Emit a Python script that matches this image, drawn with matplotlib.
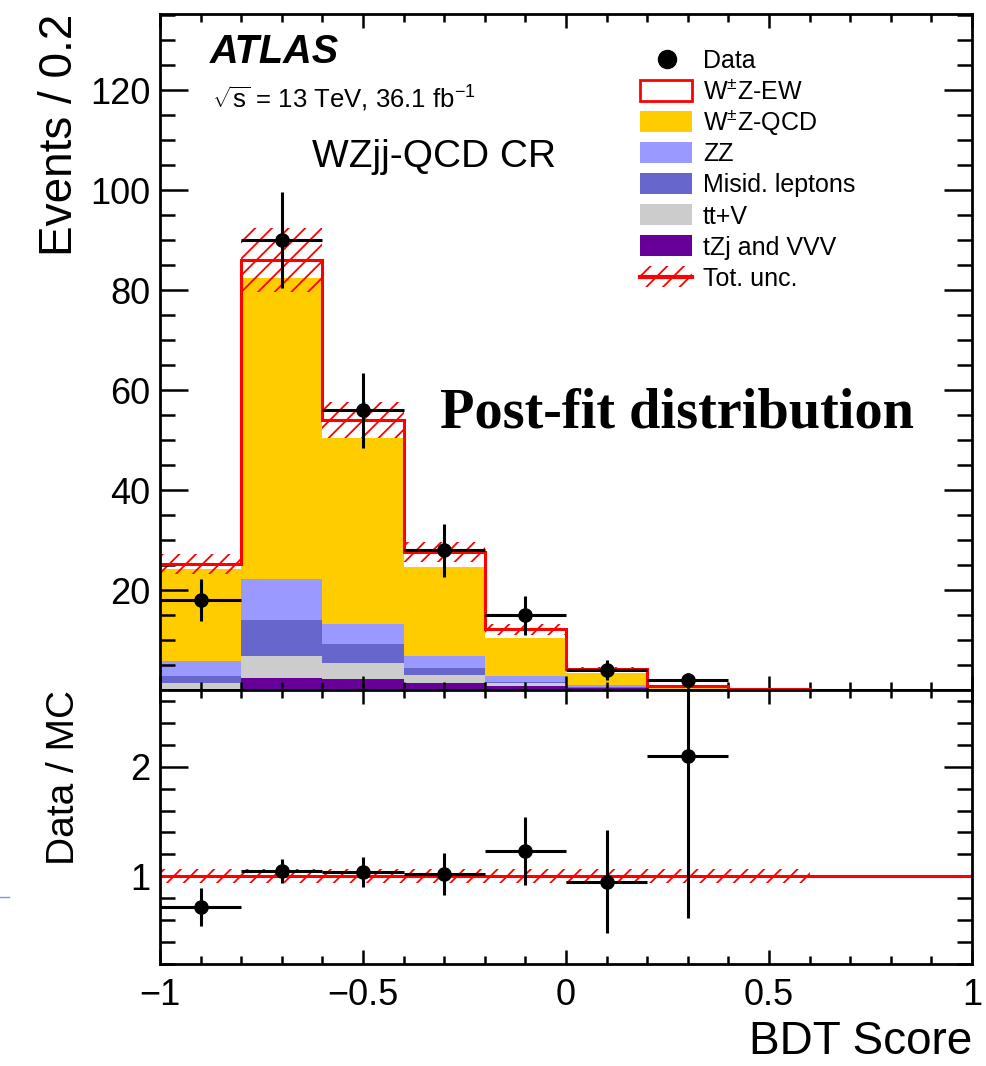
import numpy as np
import matplotlib
matplotlib.use('Agg')
import matplotlib.pyplot as plt
from matplotlib.patches import Rectangle
from matplotlib.lines import Line2D
from matplotlib.ticker import MultipleLocator, FixedLocator

plt.rcParams['font.family'] = ['Liberation Sans', 'DejaVu Sans']
plt.rcParams['mathtext.fontset'] = 'custom'
plt.rcParams['mathtext.rm'] = 'Liberation Sans'
plt.rcParams['mathtext.it'] = 'Liberation Sans:italic'
plt.rcParams['mathtext.bf'] = 'Liberation Sans:bold'
plt.rcParams['hatch.linewidth'] = 1.3

# ---------------- data ----------------
bin_edges = np.round(np.arange(-1.0, 1.0001, 0.2), 2)

tzj_vvv = [0.3, 2.4, 2.2, 1.5, 0.9, 0.35, 0.10, 0.04, 0.0, 0.0]
ttv     = [1.2, 4.4, 3.2, 1.5, 0.45, 0.15, 0.05, 0.0, 0.0, 0.0]
misid   = [1.4, 7.2, 3.8, 1.5, 0.35, 0.20, 0.05, 0.0, 0.0, 0.0]
zz      = [3.0, 8.2, 4.0, 2.4, 1.1, 0.30, 0.10, 0.0, 0.0, 0.0]
wz_qcd  = [18.4, 60.2, 37.2, 17.7, 7.6, 2.4, 0.25, 0.05, 0.0, 0.0]
wz_ew   = [0.9, 3.6, 3.6, 3.0, 1.8, 0.8, 0.25, 0.05, 0.0, 0.0]
tot_unc = [2.0, 6.4, 3.6, 2.0, 1.1, 0.4, 0.2, 0.05, 0.0, 0.0]

data_counts = [18, 90, 56, 28, 15, 4, 2]
data_err    = [4.2, 9.6, 7.5, 5.3, 3.9, 2.0, 1.4]

ratio_vals = [0.72, 1.05, 1.04, 1.02, 1.23, 0.95, 2.10]
ratio_err  = [0.17, 0.11, 0.14, 0.19, 0.31, 0.47, 1.48]
ratio_band = [0.065, 0.065, 0.065, 0.065, 0.065, 0.065, 0.065, 0.065]

legend_labels = ['Data', r'W$^{\pm}$Z-EW', r'W$^{\pm}$Z-QCD', 'ZZ',
                 'Misid. leptons', 'tt+V', 'tZj and VVV', 'Tot. unc.']
colors = {'tzj': '#660099', 'ttv': '#cccccc', 'misid': '#6666cc',
          'zz': '#9999ff', 'qcd': '#ffcc00'}

# ---------------- figure ----------------
W, H = 987, 1066
fig = plt.figure(figsize=(W / 100, H / 100), dpi=100)
ax = fig.add_axes([160 / W, 1 - 690 / H, 812 / W, 676 / H])
axr = fig.add_axes([160 / W, 1 - 964 / H, 812 / W, 274 / H])

centers = 0.5 * (bin_edges[:-1] + bin_edges[1:])
half_w = 0.5 * (bin_edges[1] - bin_edges[0])

# stacked backgrounds
base = np.zeros(len(centers))
for vals, col in [(tzj_vvv, colors['tzj']), (ttv, colors['ttv']),
                  (misid, colors['misid']), (zz, colors['zz']),
                  (wz_qcd, colors['qcd'])]:
    top = base + np.array(vals)
    ax.stairs(top, bin_edges, baseline=base, fill=True, color=col, lw=0, zorder=1)
    base = top
total = base + np.array(wz_ew)
unc = np.array(tot_unc)

ax.stairs(total + unc, bin_edges, baseline=total - unc, fill=True,
          facecolor='none', edgecolor='red', hatch='//', lw=0, zorder=1.5)
ax.stairs(total, bin_edges, baseline=None, color='red', lw=2.2, zorder=2.4)

nd = len(data_counts)
ax.errorbar(centers[:nd], data_counts, xerr=half_w, yerr=data_err, fmt='o',
            color='black', ms=9.5, elinewidth=2.2, capsize=0, zorder=5)

ax.set_xlim(-1, 1)
ax.set_ylim(0, 135.3)
ax.yaxis.set_major_locator(FixedLocator([20, 40, 60, 80, 100, 120]))
ax.yaxis.set_minor_locator(MultipleLocator(5))
ax.xaxis.set_major_locator(MultipleLocator(0.5))
ax.xaxis.set_minor_locator(MultipleLocator(0.1))
ax.tick_params(labelbottom=False)

# ratio panel
nb = len(ratio_band)
band = np.array(ratio_band)
axr.stairs(1 + band, bin_edges[:nb + 1], baseline=1 - band, fill=True,
           facecolor='none', edgecolor='red', hatch='//', lw=0, zorder=1.5)
axr.axhline(1.0, color='red', lw=2.2, zorder=2.4)
nr = len(ratio_vals)
axr.errorbar(centers[:nr], ratio_vals, xerr=half_w, yerr=ratio_err, fmt='o',
             color='black', ms=9.5, elinewidth=2.2, capsize=0, zorder=5)
axr.set_xlim(-1, 1)
axr.set_ylim(0.2, 2.7)
axr.yaxis.set_major_locator(FixedLocator([1, 2]))
axr.yaxis.set_minor_locator(MultipleLocator(0.2))
axr.xaxis.set_major_locator(MultipleLocator(0.5))
axr.xaxis.set_minor_locator(MultipleLocator(0.1))
axr.set_xticks([-1, -0.5, 0, 0.5, 1])
axr.set_xticklabels(['\u22121', '\u22120.5', '0', '0.5', '1'])

for a in (ax, axr):
    a.tick_params(which='both', direction='in', top=True, right=True,
                  width=1.8, labelsize=26, colors='black')
    a.tick_params(axis='x', which='major', length=10, pad=10)
    a.tick_params(axis='x', which='minor', length=5.5)
    a.tick_params(axis='y', which='major', length=20, pad=7)
    a.tick_params(axis='y', which='minor', length=11)
    for s in a.spines.values():
        s.set_linewidth(2.0)

ax.set_ylabel('Events / 0.2', fontsize=33, loc='top')
ax.yaxis.set_label_coords(-0.096, 1.0)
axr.set_ylabel('Data / MC', fontsize=28, loc='top')
axr.yaxis.set_label_coords(-0.096, 1.0)
axr.set_xlabel('BDT Score', fontsize=33, loc='right')
axr.xaxis.set_label_coords(1.0, -0.204)

# texts
ax.text(0.0616, 0.9275, 'ATLAS', transform=ax.transAxes, fontsize=28.5,
        fontweight='bold', fontstyle='italic', va='baseline')
ax.text(0.064, 0.861, r'$\sqrt{\mathrm{s}}$ = 13 TeV, 36.1 fb$^{-1}$', transform=ax.transAxes,
        fontsize=18.5, va='baseline')
ax.text(0.187, 0.774, 'WZjj-QCD CR', transform=ax.transAxes, fontsize=28, va='baseline')
ax.text(0.345, 0.388, 'Post-fit distribution', transform=ax.transAxes,
        family=['Liberation Serif'], fontweight='bold', fontsize=40.5, va='baseline')

# legend (manual, in axes fraction)
def ay(ypx):
    return (690 - ypx) / 676

box_x0, box_x1 = (640 - 160) / 812, (692 - 160) / 812
text_x = (703 - 160) / 812
box_h = 21 / 676
fills = [None, None, colors['qcd'], colors['zz'], colors['misid'], colors['ttv'], colors['tzj'], None]
for i, lab in enumerate(legend_labels):
    yc = 59 + 31.1 * i
    if i == 0:
        ax.plot([(667 - 160) / 812], [ay(yc)], 'o', color='black', ms=13,
                transform=ax.transAxes, clip_on=False)
    elif i == 1:
        ax.add_patch(Rectangle((box_x0, ay(yc) - box_h / 2), box_x1 - box_x0, box_h,
                               transform=ax.transAxes, facecolor='white',
                               edgecolor='red', lw=2))
    elif i == 7:
        ax.add_patch(Rectangle((box_x0, ay(yc) - box_h / 2), box_x1 - box_x0, box_h,
                               transform=ax.transAxes, facecolor='none',
                               edgecolor='red', hatch='//', lw=0))
        ax.plot([box_x0, box_x1], [ay(yc), ay(yc)], color='red', lw=3,
                transform=ax.transAxes)
    else:
        ax.add_patch(Rectangle((box_x0, ay(yc) - box_h / 2), box_x1 - box_x0, box_h,
                               transform=ax.transAxes, facecolor=fills[i],
                               edgecolor='none', lw=0))
    ax.text(text_x, ay(yc + 9), lab, transform=ax.transAxes, fontsize=18, va='baseline')

# small page artifact at left
fig.add_artist(Line2D([0, 9 / W], [1 - 897 / H, 1 - 897 / H], color='#7799cc', lw=1))

fig.savefig('out.png', dpi=100, facecolor='white')
